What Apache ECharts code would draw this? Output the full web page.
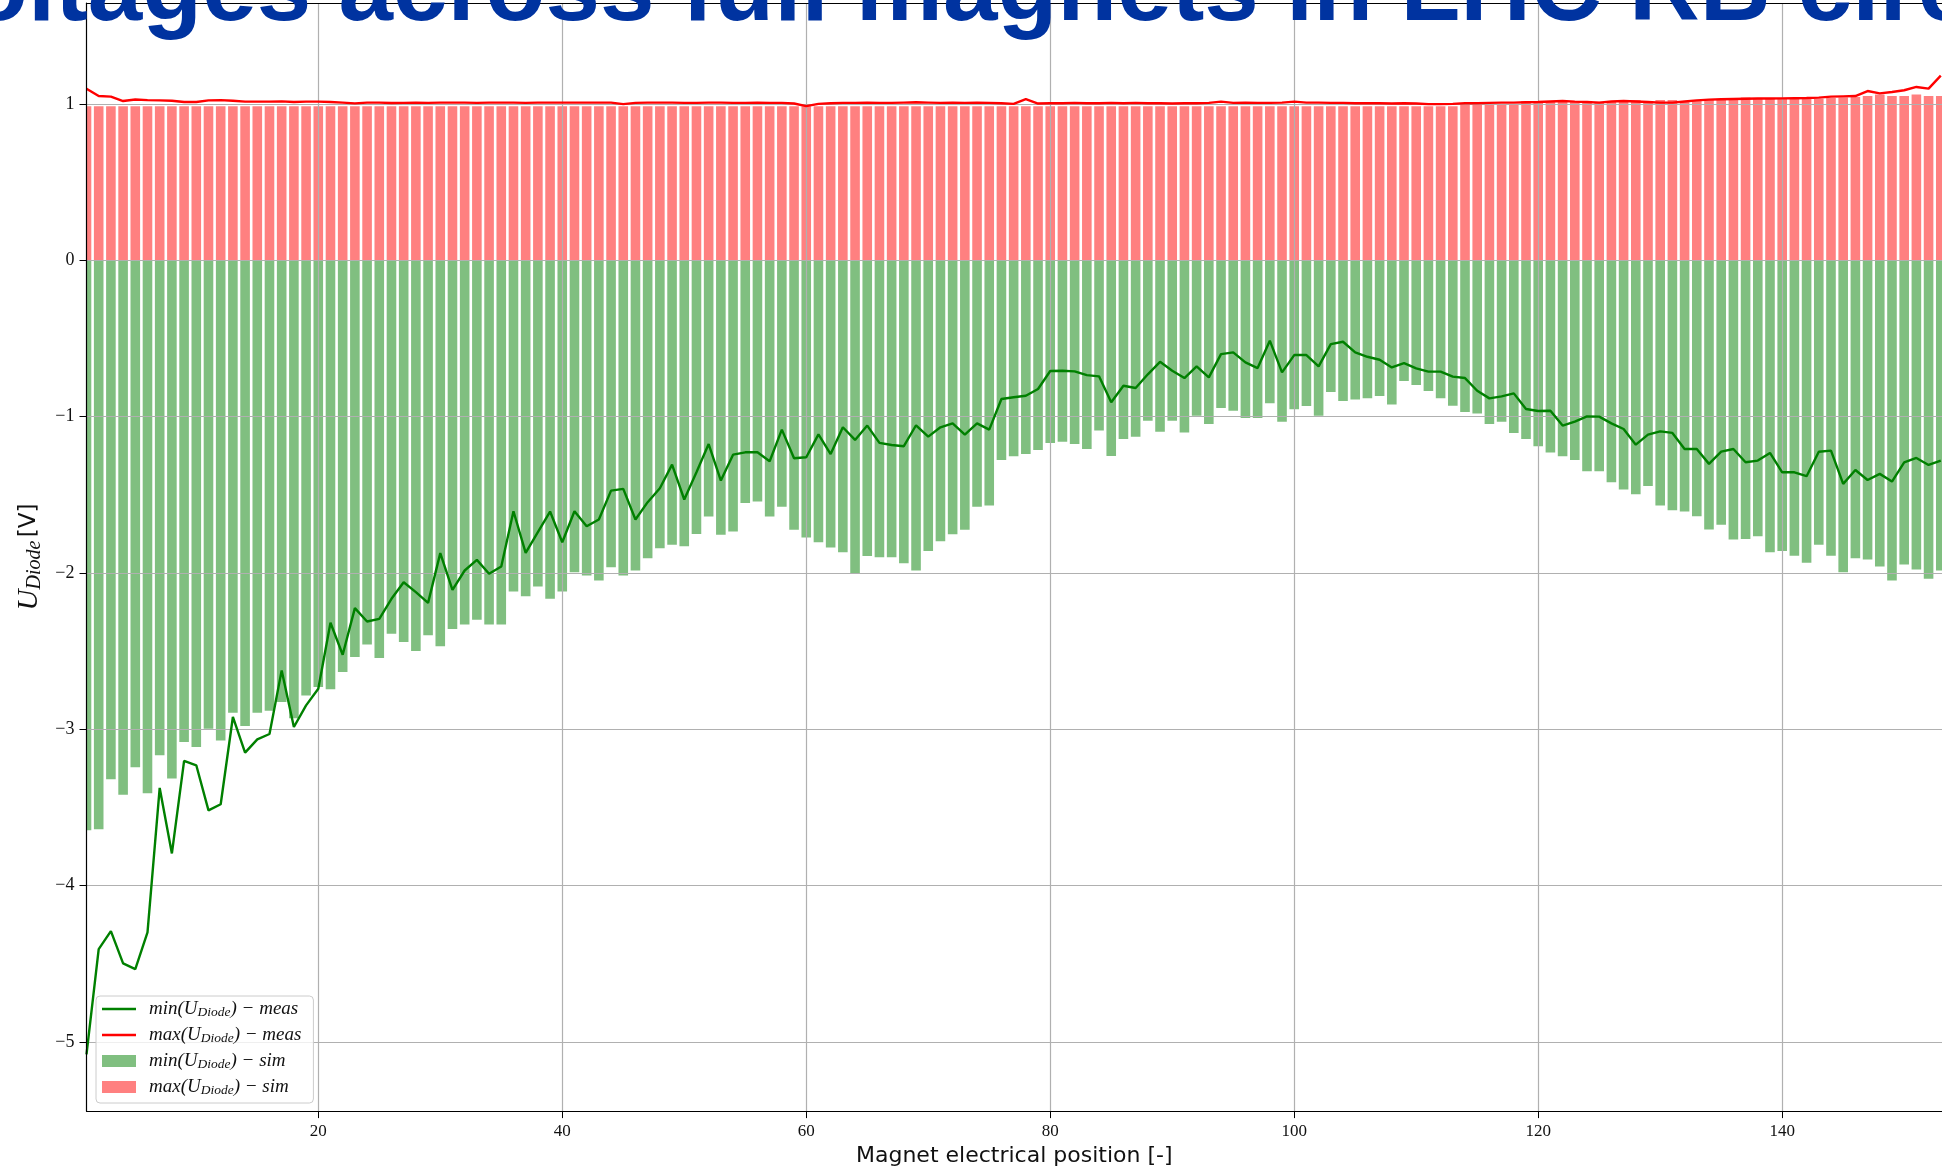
<!DOCTYPE html>
<html>
<head>
<meta charset="utf-8">
<script src="https://cdn.jsdelivr.net/npm/echarts@6/dist/echarts.min.js"></script>
<style>
  html, body { margin: 0; padding: 0; background: #ffffff; }
  #chart { width: 1942px; height: 1172px; }
</style>
</head>
<body>
<div id="chart"></div>
<script>
// Magnet electrical positions 1..153 along the circuit
const positions = Array.from({ length: 153 }, (_, i) => i + 1);

// Simulated minimum diode voltage per magnet [V]
const minSim = [
  -3.646, -3.640, -3.320, -3.420, -3.244, -3.410, -3.167, -3.316, -3.082, -3.114,
  -2.997, -3.073, -2.895, -2.980, -2.895, -2.882, -2.826, -2.930, -2.784, -2.730,
  -2.745, -2.635, -2.539, -2.458, -2.545, -2.390, -2.443, -2.500, -2.400, -2.470,
  -2.360, -2.330, -2.300, -2.330, -2.330, -2.119, -2.149, -2.087, -2.166, -2.119,
  -1.996, -2.017, -2.049, -1.964, -2.017, -1.985, -1.906, -1.842, -1.821, -1.830,
  -1.751, -1.640, -1.757, -1.736, -1.553, -1.544, -1.640, -1.578, -1.725, -1.774,
  -1.804, -1.838, -1.868, -2.008, -1.893, -1.900, -1.900, -1.938, -1.985, -1.861,
  -1.798, -1.753, -1.725, -1.578, -1.570, -1.278, -1.254, -1.240, -1.214, -1.169,
  -1.161, -1.176, -1.208, -1.090, -1.252, -1.144, -1.129, -1.027, -1.097, -1.027,
  -1.103, -0.995, -1.048, -0.946, -0.963, -1.010, -1.010, -0.916, -1.033, -0.954,
  -0.933, -0.995, -0.843, -0.901, -0.892, -0.884, -0.869, -0.924, -0.773, -0.799,
  -0.837, -0.884, -0.931, -0.971, -0.980, -1.048, -1.033, -1.105, -1.144, -1.190,
  -1.231, -1.254, -1.278, -1.350, -1.350, -1.421, -1.467, -1.497, -1.444, -1.570,
  -1.600, -1.608, -1.638, -1.723, -1.693, -1.787, -1.783, -1.766, -1.868, -1.860,
  -1.891, -1.936, -1.821, -1.891, -1.996, -1.906, -1.915, -1.960, -2.049, -1.947,
  -1.979, -2.038, -1.985
];

// Simulated maximum diode voltage per magnet [V]
const maxSim = [
  0.985, 0.985, 0.985, 0.985, 0.985, 0.985, 0.985, 0.985, 0.985, 0.985,
  0.985, 0.985, 0.985, 0.985, 0.985, 0.985, 0.985, 0.985, 0.985, 0.985,
  0.985, 0.985, 0.985, 0.985, 0.985, 0.985, 0.985, 0.985, 0.985, 0.985,
  0.985, 0.985, 0.985, 0.985, 0.985, 0.985, 0.985, 0.985, 0.985, 0.985,
  0.985, 0.985, 0.985, 0.985, 0.985, 0.985, 0.985, 0.985, 0.985, 0.985,
  0.985, 0.985, 0.985, 0.985, 0.985, 0.985, 0.985, 0.985, 0.985, 0.985,
  0.985, 0.985, 0.985, 0.985, 0.985, 0.985, 0.985, 0.985, 0.985, 0.985,
  0.985, 0.985, 0.985, 0.985, 0.985, 0.985, 0.985, 0.985, 0.985, 0.985,
  0.985, 0.985, 0.985, 0.985, 0.985, 0.985, 0.985, 0.985, 0.985, 0.985,
  0.985, 0.985, 0.985, 0.985, 0.985, 0.985, 0.985, 0.985, 0.985, 0.985,
  0.985, 0.985, 0.985, 0.985, 0.985, 0.985, 0.985, 0.985, 0.985, 0.985,
  0.985, 0.985, 0.985, 0.993, 0.995, 0.997, 0.997, 0.997, 1.018, 1.018,
  1.018, 1.018, 1.014, 1.014, 1.014, 1.014, 1.024, 1.024, 1.018, 1.024,
  1.024, 1.018, 1.024, 1.029, 1.029, 1.033, 1.040, 1.033, 1.033, 1.033,
  1.033, 1.033, 1.033, 1.037, 1.040, 1.044, 1.050, 1.059, 1.050, 1.050,
  1.059, 1.050, 1.050
];

// Measured minimum diode voltage per magnet [V]
const minMeas = [
  -5.080, -4.407, -4.292, -4.498, -4.535, -4.300, -3.376, -3.795, -3.203, -3.231,
  -3.519, -3.480, -2.922, -3.150, -3.065, -3.031, -2.624, -2.986, -2.848, -2.741,
  -2.319, -2.524, -2.226, -2.311, -2.294, -2.166, -2.060, -2.123, -2.192, -1.874,
  -2.109, -1.985, -1.917, -2.006, -1.959, -1.606, -1.872, -1.740, -1.608, -1.804,
  -1.606, -1.702, -1.659, -1.474, -1.463, -1.659, -1.548, -1.459, -1.308, -1.531,
  -1.357, -1.176, -1.410, -1.244, -1.229, -1.229, -1.286, -1.084, -1.267, -1.261,
  -1.114, -1.240, -1.069, -1.150, -1.058, -1.169, -1.182, -1.190, -1.056, -1.129,
  -1.069, -1.044, -1.116, -1.044, -1.084, -0.888, -0.877, -0.867, -0.824, -0.709,
  -0.707, -0.711, -0.735, -0.743, -0.909, -0.803, -0.818, -0.730, -0.650, -0.707,
  -0.754, -0.679, -0.750, -0.601, -0.590, -0.654, -0.690, -0.515, -0.718, -0.607,
  -0.607, -0.679, -0.537, -0.522, -0.590, -0.618, -0.637, -0.686, -0.658, -0.692,
  -0.713, -0.713, -0.745, -0.754, -0.835, -0.884, -0.871, -0.852, -0.952, -0.965,
  -0.963, -1.058, -1.033, -0.999, -1.001, -1.044, -1.080, -1.180, -1.116, -1.095,
  -1.105, -1.208, -1.208, -1.303, -1.225, -1.208, -1.293, -1.282, -1.233, -1.357,
  -1.357, -1.382, -1.225, -1.218, -1.431, -1.342, -1.406, -1.367, -1.416, -1.293,
  -1.265, -1.310, -1.282
];

// Measured maximum diode voltage per magnet [V]
const maxMeas = [
  1.097, 1.050, 1.046, 1.018, 1.028, 1.024, 1.022, 1.020, 1.012, 1.012,
  1.022, 1.024, 1.020, 1.014, 1.014, 1.014, 1.016, 1.012, 1.014, 1.014,
  1.012, 1.008, 1.003, 1.008, 1.008, 1.005, 1.006, 1.008, 1.006, 1.008,
  1.008, 1.008, 1.006, 1.008, 1.008, 1.008, 1.006, 1.008, 1.008, 1.008,
  1.008, 1.008, 1.008, 1.008, 0.998, 1.006, 1.008, 1.008, 1.008, 1.006,
  1.006, 1.008, 1.008, 1.006, 1.006, 1.008, 1.006, 1.006, 1.002, 0.985,
  1.000, 1.004, 1.006, 1.006, 1.008, 1.006, 1.006, 1.008, 1.010, 1.008,
  1.006, 1.008, 1.006, 1.008, 1.006, 1.004, 1.000, 1.030, 1.002, 1.004,
  1.004, 1.006, 1.004, 1.004, 1.006, 1.004, 1.006, 1.004, 1.004, 1.002,
  1.004, 1.004, 1.006, 1.014, 1.006, 1.008, 1.006, 1.006, 1.008, 1.014,
  1.008, 1.008, 1.006, 1.006, 1.004, 1.004, 1.004, 1.002, 1.004, 1.002,
  0.998, 0.998, 1.000, 1.004, 1.004, 1.006, 1.008, 1.008, 1.010, 1.012,
  1.015, 1.018, 1.014, 1.012, 1.008, 1.015, 1.018, 1.015, 1.012, 1.008,
  1.008, 1.015, 1.022, 1.027, 1.029, 1.031, 1.033, 1.034, 1.034, 1.035,
  1.036, 1.037, 1.040, 1.046, 1.048, 1.050, 1.082, 1.067, 1.076, 1.087,
  1.108, 1.097, 1.180
];

// Axis ticks
const xTicks = [20, 40, 60, 80, 100, 120, 140];
const yTicks = [-5, -4, -3, -2, -1, 0, 1];

const titleText = 'Voltages across full magnets in LHC RB circuit';
const xLabel = 'Magnet electrical position [-]';
const names = {
  minMeas: 'min(U_Diode) - meas',
  maxMeas: 'max(U_Diode) - meas',
  minSim: 'min(U_Diode) - sim',
  maxSim: 'max(U_Diode) - sim'
};
const legendRich = {
  [names.minMeas]: '{f|min(U}{s|Diode}{t|) \u2212 meas}',
  [names.maxMeas]: '{f|max(U}{s|Diode}{t|) \u2212 meas}',
  [names.minSim]: '{f|min(U}{s|Diode}{t|) \u2212 sim}',
  [names.maxSim]: '{f|max(U}{s|Diode}{t|) \u2212 sim}'
};

const pair = (vals) => positions.map((p, i) => [p, vals[i]]);
const minusFmt = (v) => (v < 0 ? '\u2212' + Math.abs(v) : String(v));

const serif = '"Liberation Serif", "DejaVu Serif", serif';
const sans = '"DejaVu Sans", sans-serif';
const gridColor = '#b0b0b0';
const lineIcon = 'path://M0,0L34,0L34,2.4L0,2.4Z';

const gridLeft = 86.5;
const gridBottom = 59.7;

const gridLines = xTicks.map((v) => ({ xAxis: v })).concat(yTicks.map((v) => ({ yAxis: v })));

const chart = echarts.init(document.getElementById('chart'), null, { renderer: 'canvas' });

chart.setOption({
  animation: false,
  backgroundColor: '#ffffff',
  graphic: [{
    // white margin strip left of the plot so edge bars stop at the axis
    type: 'rect',
    z: 5,
    silent: true,
    shape: { x: 0, y: 0, width: gridLeft, height: 1172 - gridBottom },
    style: { fill: '#ffffff' }
  }, {
    type: 'text',
    x: -90,
    y: -7,
    z: 100,
    style: {
      text: titleText,
      fontFamily: '"Liberation Sans", Arial, sans-serif',
      fontWeight: 'bold',
      fontSize: 98,
      fill: '#0033a0',
      verticalAlign: 'middle',
      align: 'left'
    }
  }],
  grid: { left: gridLeft, right: 0, top: 3, bottom: gridBottom, containLabel: false },
  xAxis: [{
    type: 'value',
    min: 1,
    max: 153.1,
    position: 'bottom',
    z: 10,
    axisLine: { show: true, onZero: false, lineStyle: { color: '#000', width: 1.2 } },
    axisTick: { show: true, length: 7, customValues: xTicks, lineStyle: { color: '#000', width: 1 } },
    axisLabel: { customValues: xTicks, margin: 12, fontFamily: serif, fontSize: 17, color: '#111' },
    splitLine: { show: false },
    name: xLabel,
    nameLocation: 'middle',
    nameGap: 33,
    nameTextStyle: { fontFamily: sans, fontSize: 22, color: '#111' }
  }, {
    type: 'value',
    min: 1,
    max: 153.1,
    position: 'top',
    z: 10,
    axisLine: { show: true, onZero: false, lineStyle: { color: '#000', width: 1.2 } },
    axisTick: { show: false },
    axisLabel: { show: false },
    splitLine: { show: false }
  }],
  yAxis: {
    type: 'value',
    min: -5.443,
    max: 1.645,
    z: 10,
    axisLine: { show: true, onZero: false, lineStyle: { color: '#000', width: 1.2 } },
    axisTick: { show: true, length: 7, customValues: yTicks, lineStyle: { color: '#000', width: 1 } },
    axisLabel: { customValues: yTicks, margin: 12, fontFamily: serif, fontSize: 18, color: '#111', formatter: minusFmt },
    splitLine: { show: false },
    name: '{u|U}{d|Diode} {v|[V]}',
    nameLocation: 'middle',
    nameRotate: 90,
    nameGap: 40,
    nameTextStyle: {
      color: '#111',
      rich: {
        u: { fontFamily: serif, fontStyle: 'italic', fontSize: 29, lineHeight: 30 },
        d: { fontFamily: serif, fontStyle: 'italic', fontSize: 20, lineHeight: 16, verticalAlign: 'bottom' },
        v: { fontFamily: sans, fontSize: 23, lineHeight: 30 }
      }
    }
  },
  legend: {
    orient: 'vertical',
    left: 96,
    top: 996,
    padding: [3, 12, 6, 6],
    itemGap: 6,
    itemWidth: 34,
    itemHeight: 12,
    z: 20,
    backgroundColor: 'rgba(255,255,255,0.8)',
    borderColor: '#cccccc',
    borderWidth: 1,
    borderRadius: 4,
    data: [
      { name: names.minMeas, icon: lineIcon },
      { name: names.maxMeas, icon: lineIcon },
      { name: names.minSim, icon: 'rect' },
      { name: names.maxSim, icon: 'rect' }
    ],
    formatter: (n) => legendRich[n],
    textStyle: {
      color: '#111',
      lineHeight: 20,
      rich: {
        f: { fontFamily: serif, fontStyle: 'italic', fontSize: 19, lineHeight: 20, padding: [0, 0, 0, 8] },
        t: { fontFamily: serif, fontStyle: 'italic', fontSize: 19, lineHeight: 20 },
        s: { fontFamily: serif, fontStyle: 'italic', fontSize: 13.5, lineHeight: 13, verticalAlign: 'bottom' }
      }
    }
  },
  series: [{
    name: names.maxSim,
    type: 'bar',
    data: pair(maxSim),
    barWidth: 9.6,
    barGap: '-100%',
    z: 2,
    itemStyle: { color: '#ff8080' },
    markLine: {
      silent: true,
      z: 3,
      symbol: 'none',
      label: { show: false },
      lineStyle: { color: gridColor, width: 1.2, type: 'solid' },
      data: gridLines
    }
  }, {
    name: names.minSim,
    type: 'bar',
    data: pair(minSim),
    barWidth: 9.6,
    barGap: '-100%',
    z: 2,
    itemStyle: { color: '#80bf80' }
  }, {
    name: names.minMeas,
    type: 'line',
    data: pair(minMeas),
    symbol: 'none',
    z: 6,
    lineStyle: { color: '#008000', width: 2.4 },
    itemStyle: { color: '#008000' }
  }, {
    name: names.maxMeas,
    type: 'line',
    data: pair(maxMeas),
    symbol: 'none',
    z: 6,
    lineStyle: { color: '#ff0000', width: 2.4 },
    itemStyle: { color: '#ff0000' }
  }]
});
</script>
</body>
</html>
